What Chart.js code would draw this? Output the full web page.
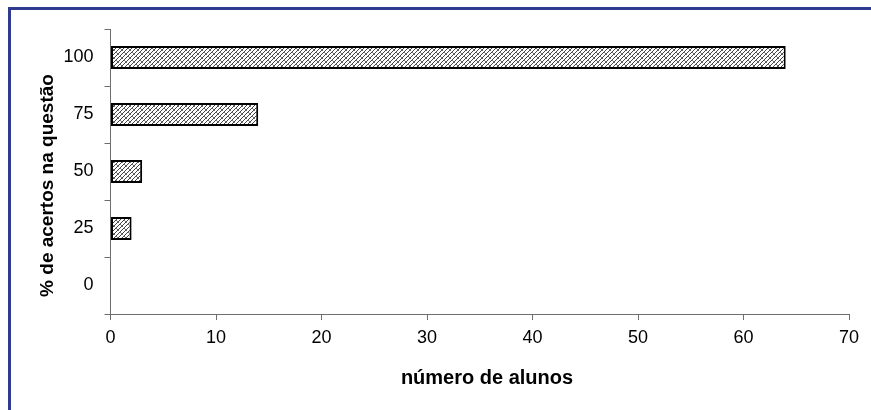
<!DOCTYPE html>
<html lang="pt">
<head>
<meta charset="UTF-8">
<title>número de alunos</title>
<script src="https://cdn.jsdelivr.net/npm/chart.js"></script>
<style>
  html, body { margin: 0; padding: 0; background: #fff; }
  #wrap { position: relative; width: 871px; height: 410px; overflow: hidden; }
  #frame { position: absolute; left: 8px; top: 7px; right: -10px; bottom: -10px;
           border-left: 3px solid #2e3b8f; border-top: 3px solid #2e3b8f; }
  canvas { position: absolute; left: 0; top: 0; }
</style>
</head>
<body>
<div id="wrap">
  <div id="frame"></div>
  <canvas id="chart" width="871" height="410"></canvas>
</div>
<script>
  const categories = ['100', '75', '50', '25', '0'];
  const alunos = [64, 14, 3, 2, 0];
  const xTicks = [0, 10, 20, 30, 40, 50, 60, 70];
  const xTitle = 'número de alunos';
  const yTitle = '% de acertos na questão';

  // hatch fill like the old spreadsheet pattern
  function hatch() {
    const c = document.createElement('canvas');
    c.width = 8; c.height = 8;
    const g = c.getContext('2d');
    g.fillStyle = '#fff';
    g.fillRect(0, 0, 8, 8);
    g.strokeStyle = '#444';
    g.lineWidth = 1;
    g.beginPath();
    for (let k = -8; k <= 16; k += 4) { g.moveTo(k - 1, 9); g.lineTo(k + 9, -1); }
    g.stroke();
    g.strokeStyle = '#777';
    g.beginPath();
    g.moveTo(0, 0); g.lineTo(3, 3);
    g.moveTo(4, 4); g.lineTo(7, 7);
    g.stroke();
    return g.createPattern(c, 'repeat');
  }

  const axisColor = '#6e6e6e';
  const fam = 'Liberation Sans, Arial, sans-serif';
  const tickFont = { family: fam, size: 18 };

  // axis titles, placed like the original sheet
  const titles = {
    id: 'titles',
    afterDraw(chart) {
      const ctx = chart.ctx;
      ctx.save();
      ctx.fillStyle = '#000';
      ctx.textAlign = 'center';
      ctx.textBaseline = 'middle';
      ctx.font = 'bold 20px ' + fam;
      ctx.fillText(xTitle, 487, 378);
      ctx.translate(47.5, 185.5);
      ctx.rotate(-Math.PI / 2);
      ctx.font = 'bold 19px ' + fam;
      ctx.fillText(yTitle, 0, 0);
      ctx.restore();
    }
  };

  new Chart(document.getElementById('chart'), {
    type: 'bar',
    data: {
      labels: categories,
      datasets: [{
        data: alunos,
        backgroundColor: hatch(),
        borderColor: '#000',
        borderWidth: 2,
        borderSkipped: false,
        barPercentage: 0.4,
        categoryPercentage: 1
      }]
    },
    plugins: [titles],
    options: {
      indexAxis: 'y',
      responsive: false,
      animation: false,
      layout: { padding: { left: 0, top: 29, right: 22, bottom: 0 } },
      plugins: { legend: { display: false }, tooltip: { enabled: false } },
      scales: {
        x: {
          min: 0, max: 70,
          afterBuildTicks: s => { s.ticks = xTicks.map(v => ({ value: v })); },
          afterFit: s => { s.height = 96; },
          border: { color: axisColor, width: 1 },
          grid: { drawOnChartArea: false, color: axisColor, tickLength: 6 },
          ticks: { color: '#000', font: tickFont, padding: 7 }
        },
        y: {
          offset: true,
          afterFit: s => { s.width = 110.5; },
          border: { color: axisColor, width: 1 },
          grid: { offset: true, drawOnChartArea: false, color: axisColor, tickLength: 6 },
          ticks: { color: '#000', font: tickFont, padding: 11 }
        }
      }
    }
  });
</script>
</body>
</html>
